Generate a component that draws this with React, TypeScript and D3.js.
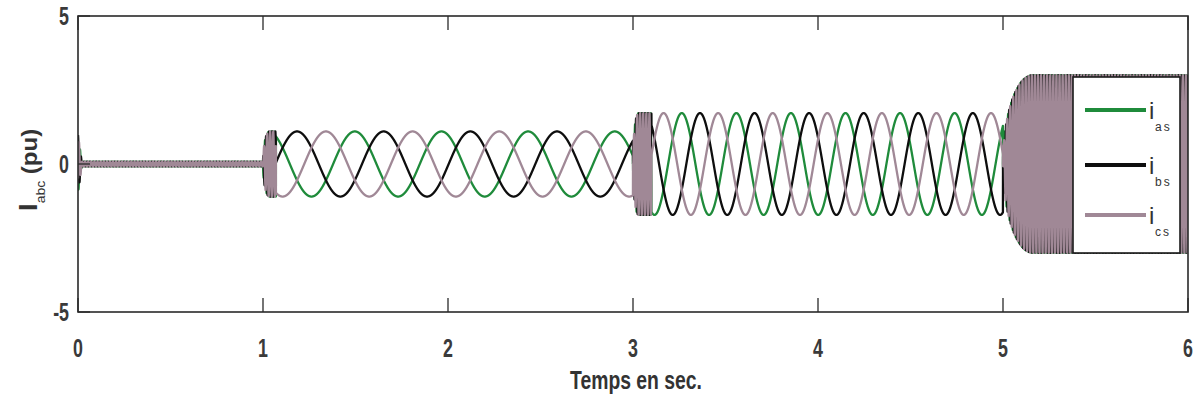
import React from 'react';
import * as d3 from 'd3';

// Operating stages of the machine: start time, end time (s)
const segStart = [0, 1, 3, 5];
const segEnd = [1, 3, 5, 6];
// Steady-state current amplitude per stage (pu)
const segAmp = [0.08, 1.1, 1.72, 3.0];
// Low-frequency stator current frequency per stage (Hz)
const segFreq = [0, 2.135, 3.39, 0];
// Time of the first i_bs crest in each stage (s)
const segCrest = [0, 1.184, 3.362, 5];
// Switching transient at the beginning of each stage
const burstFreq = [60, 60, 60, 60];
const burstDur = [1, 0.07, 0.1, 1];
const riseTime = [0, 0.035, 0.03, 0.16];
const startPeak = [0.9];
const startPeakDur = [0.02];

const seriesNames = ['as', 'bs', 'cs'];
const seriesPhase = [(2 * Math.PI) / 3, 0, (-2 * Math.PI) / 3];
const seriesColor = ['#1f8b3b', '#0e0e0e', '#a08896'];

const xTicks = [0, 1, 2, 3, 4, 5, 6];
const yTicks = [-5, 0, 5];
const yTickLabels = ['-5', '0', '5'];

const W = 1194;
const H = 401;
const left = 78;
const right = 1188;
const top = 16;
const bottom = 312;

const FONT = "'Liberation Sans Narrow', 'Liberation Sans', Arial, sans-serif";

function current(t: number, phase: number): number {
  let i = segStart.length - 1;
  for (let k = 0; k < segStart.length; k++) {
    if (t >= segStart[k] && t < segEnd[k]) { i = k; break; }
  }
  const tau = t - segStart[i];
  if (tau < burstDur[i]) {
    let env = 1;
    if (riseTime[i] > 0 && tau < riseTime[i]) {
      const r = 1 - tau / riseTime[i];
      env = Math.sqrt(Math.max(0, 1 - r * r));
    }
    let amp = segAmp[i] * env;
    if (i === 0 && tau < startPeakDur[0]) {
      amp = startPeak[0] * (1 - tau / startPeakDur[0]) + segAmp[0];
    }
    return amp * Math.cos(2 * Math.PI * burstFreq[i] * tau + phase);
  }
  return segAmp[i] * Math.cos(2 * Math.PI * segFreq[i] * (t - segCrest[i]) + phase);
}

export default function App() {
  const x = d3.scaleLinear().domain([0, 6]).range([left, right]);
  const y = d3.scaleLinear().domain([-5, 5]).range([bottom, top]);
  const times = d3.range(0, 6.00001, 0.0004);

  const line = d3
    .line<number>()
    .x((t) => x(t))
    .curve(d3.curveLinear);

  const paths = seriesPhase.map((ph) =>
    line.y((t) => y(current(t, ph)))(times) as string
  );

  const legendX = 1073;
  const legendY = 77;
  const legendW = 107;
  const legendH = 176;
  const legendRows = [110, 165, 215];

  return (
    <svg
      width={W}
      height={H}
      style={{ position: 'absolute', left: 0, top: 0, background: '#fff' }}
    >
      <defs>
        <clipPath id="plot-area">
          <rect x={left} y={top} width={right - left} height={bottom - top} />
        </clipPath>
      </defs>

      {/* current waveforms */}
      <g clipPath="url(#plot-area)">
        {paths.map((d, i) => (
          <path key={i} d={d} fill="none" stroke={seriesColor[i]} strokeWidth={2.3} strokeLinejoin="round" />
        ))}
      </g>

      {/* axes box */}
      <rect x={left} y={top} width={right - left} height={bottom - top} fill="none" stroke="#2a2a2a" strokeWidth={1.6} />

      {/* x ticks */}
      {xTicks.map((v) => (
        <g key={'x' + v}>
          <line x1={x(v)} x2={x(v)} y1={bottom} y2={bottom - 14} stroke="#2a2a2a" strokeWidth={1.3} />
          <line x1={x(v)} x2={x(v)} y1={top} y2={top + 14} stroke="#2a2a2a" strokeWidth={1.3} />
          <text
            transform={`translate(${x(v)},${357}) scale(0.85,1.25)`}
            textAnchor="middle"
            fontFamily={FONT}
            fontWeight="bold"
            fontSize={21}
            fill="#3a3a3a"
          >
            {String(v)}
          </text>
        </g>
      ))}

      {/* y ticks */}
      {yTicks.map((v, i) => (
        <g key={'y' + v}>
          <line x1={left} x2={left + 12} y1={y(v)} y2={y(v)} stroke="#2a2a2a" strokeWidth={1.3} />
          <text
            transform={`translate(${69},${y(v) + 9}) scale(0.85,1.25)`}
            textAnchor="end"
            fontFamily={FONT}
            fontWeight="bold"
            fontSize={21}
            fill="#3a3a3a"
          >
            {yTickLabels[i]}
          </text>
        </g>
      ))}

      {/* axis titles */}
      <text
        transform={`translate(${636},${389}) scale(0.88,1.2)`}
        textAnchor="middle"
        fontFamily={FONT}
        fontWeight="bold"
        fontSize={22}
        fill="#333"
      >
        Temps en sec.
      </text>
      <text
        transform={`translate(${37},${170}) rotate(-90) scale(1,0.95)`}
        textAnchor="middle"
        fontFamily={FONT}
        fill="#333"
      >
        <tspan fontWeight="bold" fontSize={28}>I</tspan>
        <tspan fontSize={14} dy={8}>abc</tspan>
        <tspan fontWeight="bold" fontSize={24} dy={-8}> (pu)</tspan>
      </text>

      {/* legend */}
      <rect x={legendX} y={legendY} width={legendW} height={legendH} fill="#fff" stroke="#1a1a1a" strokeWidth={1.6} />
      {seriesNames.map((n, i) => (
        <g key={n}>
          <line x1={1085} x2={1146} y1={legendRows[i]} y2={legendRows[i]} stroke={seriesColor[i]} strokeWidth={4} />
          <text x={1149} y={legendRows[i] + 9} fontFamily={FONT} fontSize={24} fill="#333">
            i
          </text>
          <text x={1155} y={legendRows[i] + 21} fontFamily={FONT} fontSize={12} fill="#333" letterSpacing={2}>
            {n}
          </text>
        </g>
      ))}
    </svg>
  );
}
